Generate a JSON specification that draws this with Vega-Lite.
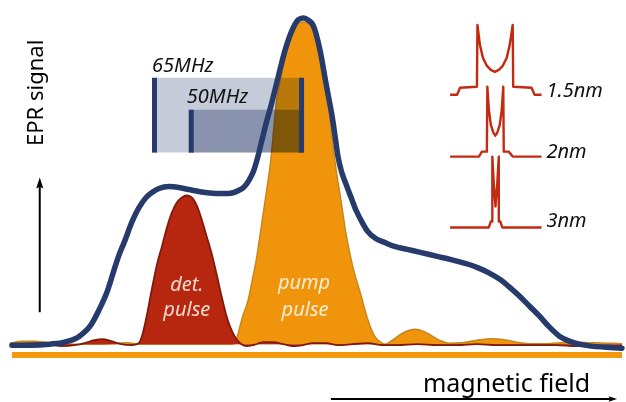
{
  "$schema": "https://vega.github.io/schema/vega-lite/v6.json",
  "width": 626,
  "height": 402,
  "padding": 0,
  "autosize": {"type": "fit", "contains": "padding"},
  "background": "white",
  "view": {"stroke": null},
  "config": {"text": {"font": "Noto Sans"}},
  "datasets": {
    "epr": [
      {"x": 12, "s": -1}, {"x": 30, "s": -1}, {"x": 50, "s": 0}, {"x": 65, "s": 2},
      {"x": 80, "s": 8}, {"x": 92, "s": 20}, {"x": 100, "s": 35}, {"x": 108, "s": 53},
      {"x": 115, "s": 75}, {"x": 120, "s": 90}, {"x": 125, "s": 102}, {"x": 133, "s": 123},
      {"x": 140, "s": 137}, {"x": 147, "s": 147}, {"x": 153, "s": 152}, {"x": 160, "s": 156},
      {"x": 170, "s": 158}, {"x": 180, "s": 157}, {"x": 190, "s": 155}, {"x": 207, "s": 152},
      {"x": 220, "s": 151}, {"x": 230, "s": 151}, {"x": 240, "s": 154}, {"x": 246, "s": 158},
      {"x": 251, "s": 165}, {"x": 255, "s": 173}, {"x": 259, "s": 186}, {"x": 263, "s": 202},
      {"x": 268, "s": 222}, {"x": 273, "s": 240}, {"x": 280, "s": 268}, {"x": 287, "s": 295},
      {"x": 295, "s": 317}, {"x": 300, "s": 325}, {"x": 305, "s": 327}, {"x": 310, "s": 325},
      {"x": 315, "s": 320}, {"x": 322, "s": 295}, {"x": 328, "s": 262}, {"x": 331, "s": 246},
      {"x": 334, "s": 230}, {"x": 337, "s": 210}, {"x": 340, "s": 189}, {"x": 344, "s": 172},
      {"x": 348, "s": 161}, {"x": 353, "s": 148}, {"x": 358, "s": 135}, {"x": 364, "s": 123},
      {"x": 370, "s": 113}, {"x": 378, "s": 106}, {"x": 387, "s": 102}, {"x": 397, "s": 98},
      {"x": 410, "s": 95}, {"x": 423, "s": 92},
      {"x": 440, "s": 88}, {"x": 453, "s": 85}, {"x": 468, "s": 81}, {"x": 480, "s": 77},
      {"x": 493, "s": 71}, {"x": 503, "s": 65}, {"x": 513, "s": 57}, {"x": 523, "s": 48},
      {"x": 533, "s": 38}, {"x": 543, "s": 28}, {"x": 553, "s": 17}, {"x": 563, "s": 8},
      {"x": 573, "s": 3}, {"x": 583, "s": 0}, {"x": 595, "s": -2}, {"x": 610, "s": -3},
      {"x": 626, "s": -4}
    ],
    "pump": [
      {"x": 10, "s": 1}, {"x": 22, "s": 3}, {"x": 35, "s": 3}, {"x": 48, "s": 1.5},
      {"x": 60, "s": 0}, {"x": 75, "s": 0}, {"x": 90, "s": 0}, {"x": 105, "s": 0},
      {"x": 118, "s": 1}, {"x": 128, "s": 1.5}, {"x": 136, "s": 0.5}, {"x": 145, "s": 0},
      {"x": 160, "s": 0}, {"x": 200, "s": 0}, {"x": 225, "s": 0}, {"x": 234, "s": 0},
      {"x": 237, "s": 2}, {"x": 240, "s": 12}, {"x": 244, "s": 27}, {"x": 250, "s": 45},
      {"x": 254, "s": 65}, {"x": 258, "s": 85}, {"x": 263, "s": 118}, {"x": 268, "s": 152},
      {"x": 272, "s": 180}, {"x": 275, "s": 210}, {"x": 278, "s": 242}, {"x": 283, "s": 268},
      {"x": 288, "s": 295}, {"x": 293, "s": 310}, {"x": 297, "s": 318}, {"x": 301, "s": 322},
      {"x": 305, "s": 323}, {"x": 309, "s": 322}, {"x": 313, "s": 318}, {"x": 317, "s": 310},
      {"x": 322, "s": 294}, {"x": 327, "s": 268}, {"x": 330, "s": 245}, {"x": 333, "s": 218},
      {"x": 336, "s": 192}, {"x": 339, "s": 170}, {"x": 343, "s": 145}, {"x": 348, "s": 112},
      {"x": 355, "s": 78}, {"x": 363, "s": 50}, {"x": 370, "s": 25}, {"x": 377, "s": 8},
      {"x": 383, "s": 2}, {"x": 388, "s": 0},
      {"x": 395, "s": 4}, {"x": 405, "s": 11}, {"x": 418, "s": 15}, {"x": 430, "s": 11},
      {"x": 442, "s": 4}, {"x": 452, "s": 1}, {"x": 465, "s": 1.5}, {"x": 480, "s": 4},
      {"x": 495, "s": 5.5}, {"x": 508, "s": 4.5}, {"x": 520, "s": 2}, {"x": 535, "s": 0.5},
      {"x": 550, "s": 0.5}, {"x": 565, "s": 1.5}, {"x": 580, "s": 2}, {"x": 595, "s": 1.5},
      {"x": 610, "s": 1}, {"x": 626, "s": 0.5}
    ],
    "det": [
      {"x": 10, "s": -1}, {"x": 20, "s": 0}, {"x": 35, "s": 1}, {"x": 50, "s": 0},
      {"x": 62, "s": -2}, {"x": 75, "s": -1}, {"x": 85, "s": 1}, {"x": 95, "s": 4},
      {"x": 103, "s": 5}, {"x": 112, "s": 3}, {"x": 122, "s": 0}, {"x": 132, "s": -1},
      {"x": 138, "s": 0}, {"x": 141, "s": 3}, {"x": 144, "s": 12}, {"x": 148, "s": 30},
      {"x": 153, "s": 56}, {"x": 158, "s": 80}, {"x": 163, "s": 98}, {"x": 168, "s": 117},
      {"x": 173, "s": 132}, {"x": 178, "s": 142}, {"x": 183, "s": 147}, {"x": 188, "s": 149},
      {"x": 193, "s": 147}, {"x": 198, "s": 139}, {"x": 203, "s": 125}, {"x": 208, "s": 108},
      {"x": 213, "s": 91}, {"x": 218, "s": 70}, {"x": 223, "s": 48}, {"x": 228, "s": 28},
      {"x": 233, "s": 14}, {"x": 238, "s": 5}, {"x": 243, "s": 0}, {"x": 248, "s": -2},
      {"x": 255, "s": -1}, {"x": 265, "s": 2}, {"x": 275, "s": 2}, {"x": 285, "s": 0},
      {"x": 295, "s": -2}, {"x": 305, "s": -1}, {"x": 315, "s": 1}, {"x": 328, "s": 1},
      {"x": 340, "s": -1}, {"x": 355, "s": 0}, {"x": 370, "s": 1}, {"x": 385, "s": -1},
      {"x": 400, "s": -1}, {"x": 420, "s": 0}, {"x": 440, "s": -1}, {"x": 460, "s": -1},
      {"x": 480, "s": 0}, {"x": 500, "s": -1}, {"x": 520, "s": -1}, {"x": 540, "s": -1},
      {"x": 560, "s": -1}, {"x": 580, "s": -2}, {"x": 600, "s": -2}, {"x": 626, "s": -2}
    ],
    "pake": [
      {"d": "1.5nm", "k": 1, "x": 453, "s": 250}, {"d": "1.5nm", "k": 2, "x": 460, "s": 250},
      {"d": "1.5nm", "k": 3, "x": 463, "s": 257}, {"d": "1.5nm", "k": 4, "x": 480, "s": 258},
      {"d": "1.5nm", "k": 5, "x": 480.5, "s": 320}, {"d": "1.5nm", "k": 6, "x": 483, "s": 300},
      {"d": "1.5nm", "k": 7, "x": 486, "s": 287}, {"d": "1.5nm", "k": 8, "x": 490, "s": 279},
      {"d": "1.5nm", "k": 9, "x": 494, "s": 275}, {"d": "1.5nm", "k": 10, "x": 498, "s": 273},
      {"d": "1.5nm", "k": 11, "x": 502, "s": 275}, {"d": "1.5nm", "k": 12, "x": 506, "s": 279},
      {"d": "1.5nm", "k": 13, "x": 510, "s": 287}, {"d": "1.5nm", "k": 14, "x": 513, "s": 300},
      {"d": "1.5nm", "k": 15, "x": 516, "s": 320}, {"d": "1.5nm", "k": 16, "x": 516.5, "s": 258},
      {"d": "1.5nm", "k": 17, "x": 535, "s": 257}, {"d": "1.5nm", "k": 18, "x": 538, "s": 250},
      {"d": "1.5nm", "k": 19, "x": 545, "s": 250},
      {"d": "2nm", "k": 1, "x": 453, "s": 188}, {"d": "2nm", "k": 2, "x": 482, "s": 188},
      {"d": "2nm", "k": 3, "x": 485, "s": 193}, {"d": "2nm", "k": 4, "x": 490, "s": 193},
      {"d": "2nm", "k": 5, "x": 490.5, "s": 258}, {"d": "2nm", "k": 6, "x": 492, "s": 235},
      {"d": "2nm", "k": 7, "x": 494, "s": 220}, {"d": "2nm", "k": 8, "x": 496.5, "s": 212},
      {"d": "2nm", "k": 9, "x": 498.5, "s": 209}, {"d": "2nm", "k": 10, "x": 500.5, "s": 212},
      {"d": "2nm", "k": 11, "x": 503, "s": 220}, {"d": "2nm", "k": 12, "x": 505, "s": 235},
      {"d": "2nm", "k": 13, "x": 506.5, "s": 258}, {"d": "2nm", "k": 14, "x": 507, "s": 193},
      {"d": "2nm", "k": 15, "x": 512, "s": 193}, {"d": "2nm", "k": 16, "x": 516, "s": 188},
      {"d": "2nm", "k": 17, "x": 545, "s": 188},
      {"d": "3nm", "k": 1, "x": 453, "s": 117}, {"d": "3nm", "k": 2, "x": 492, "s": 117},
      {"d": "3nm", "k": 3, "x": 494, "s": 123}, {"d": "3nm", "k": 4, "x": 495.5, "s": 123},
      {"d": "3nm", "k": 5, "x": 495.5, "s": 188}, {"d": "3nm", "k": 6, "x": 497, "s": 160},
      {"d": "3nm", "k": 7, "x": 498.7, "s": 138}, {"d": "3nm", "k": 8, "x": 500.4, "s": 160},
      {"d": "3nm", "k": 9, "x": 502, "s": 188}, {"d": "3nm", "k": 10, "x": 502, "s": 123},
      {"d": "3nm", "k": 11, "x": 503.5, "s": 123}, {"d": "3nm", "k": 12, "x": 505.5, "s": 117},
      {"d": "3nm", "k": 13, "x": 545, "s": 117}
    ],
    "windows": [
      {"t": "65MHz", "x": 153, "x2": 305, "s": 267, "s2": 192, "c": "#c6cbd9"},
      {"t": "50MHz", "x": 190, "x2": 305, "s": 235, "s2": 192, "c": "#b0b9cc"}
    ],
    "edges": [
      {"x": 155.5, "s": 267, "s2": 192},
      {"x": 192.5, "s": 235, "s2": 192},
      {"x": 303.5, "s": 267, "s2": 192}
    ]
  },
  "encoding": {
    "x": {"field": "x", "type": "quantitative", "axis": null,
          "scale": {"domain": [0, 626], "nice": false, "zero": false}},
    "y": {"field": "s", "type": "quantitative", "axis": null,
          "scale": {"domain": [-57, 345], "nice": false, "zero": false}}
  },
  "layer": [
    {
      "data": {"values": [{"x": 12, "x2": 626, "s": -11}]},
      "mark": {"type": "rule", "color": "#f39a0c", "strokeWidth": 6},
      "encoding": {"x2": {"field": "x2"}}
    },
    {
      "data": {"name": "pump"},
      "mark": {"type": "area", "interpolate": "monotone", "color": "#f0950b"},
      "encoding": {}
    },
    {
      "data": {"name": "pump"},
      "mark": {"type": "line", "interpolate": "monotone", "color": "#c8861d", "strokeWidth": 1.5},
      "encoding": {}
    },
    {
      "data": {"name": "det"},
      "mark": {"type": "area", "interpolate": "monotone", "color": "#b7270f"},
      "encoding": {}
    },
    {
      "data": {"name": "det"},
      "mark": {"type": "line", "interpolate": "monotone", "color": "#801a0d", "strokeWidth": 1.8},
      "encoding": {}
    },
    {
      "data": {"name": "windows"},
      "mark": {"type": "rect", "blend": "multiply"},
      "encoding": {
        "x2": {"field": "x2"},
        "y2": {"field": "s2"},
        "color": {"field": "c", "type": "nominal", "scale": null}
      }
    },
    {
      "data": {"name": "edges"},
      "mark": {"type": "rule", "color": "#263b6b", "strokeWidth": 5},
      "encoding": {"y2": {"field": "s2"}}
    },
    {
      "data": {"name": "epr"},
      "mark": {"type": "line", "interpolate": "monotone", "color": "#263b6b",
               "strokeWidth": 5.5, "strokeCap": "round", "strokeJoin": "round"},
      "encoding": {}
    },
    {
      "data": {"name": "pake"},
      "mark": {"type": "line", "color": "#c22a12", "strokeWidth": 2.4, "strokeJoin": "round"},
      "encoding": {
        "detail": {"field": "d", "type": "nominal"},
        "order": {"field": "k", "type": "quantitative"}
      }
    },
    {
      "data": {"values": [
        {"t": "1.5nm", "x": 550, "s": 248},
        {"t": "2nm", "x": 550, "s": 187},
        {"t": "3nm", "x": 550, "s": 117},
        {"t": "65MHz", "x": 153, "s": 273},
        {"t": "50MHz", "x": 188, "s": 242}
      ]},
      "mark": {"type": "text", "align": "left", "baseline": "alphabetic",
               "fontSize": 20, "fontStyle": "italic", "color": "#111111"},
      "encoding": {"text": {"field": "t"}}
    },
    {
      "data": {"values": [
        {"t": "det.", "x": 188, "s": 53},
        {"t": "pulse", "x": 188, "s": 28}
      ]},
      "mark": {"type": "text", "align": "center", "baseline": "alphabetic",
               "fontSize": 20, "fontStyle": "italic", "color": "#f4d9ce"},
      "encoding": {"text": {"field": "t"}}
    },
    {
      "data": {"values": [
        {"t": "pump", "x": 306, "s": 55},
        {"t": "pulse", "x": 307, "s": 28}
      ]},
      "mark": {"type": "text", "align": "center", "baseline": "alphabetic",
               "fontSize": 20, "fontStyle": "italic", "color": "#fcecd6"},
      "encoding": {"text": {"field": "t"}}
    },
    {
      "data": {"values": [{"t": "EPR signal", "x": 43, "s": 252}]},
      "mark": {"type": "text", "align": "center", "baseline": "alphabetic",
               "angle": 270, "fontSize": 22, "color": "#000000"},
      "encoding": {"text": {"field": "t"}}
    },
    {
      "data": {"values": [{"t": "magnetic field", "x": 594, "s": -48}]},
      "mark": {"type": "text", "align": "right", "baseline": "alphabetic",
               "fontSize": 25, "color": "#000000"},
      "encoding": {"text": {"field": "t"}}
    },
    {
      "data": {"values": [
        {"x": 40, "s": 32, "x2": 40, "s2": 158},
        {"x": 333, "s": -55, "x2": 614, "s2": -55}
      ]},
      "mark": {"type": "rule", "color": "#000000", "strokeWidth": 2},
      "encoding": {"x2": {"field": "x2"}, "y2": {"field": "s2"}}
    },
    {
      "data": {"values": [{"x": 40, "s": 160.5}]},
      "mark": {"type": "point", "filled": true, "opacity": 1, "color": "#000000",
               "shape": "M0,-1L0.55,0.7L0,0.4L-0.55,0.7Z", "size": 169},
      "encoding": {}
    },
    {
      "data": {"values": [{"x": 616, "s": -55}]},
      "mark": {"type": "point", "filled": true, "opacity": 1, "color": "#000000",
               "shape": "M0,-1L0.55,0.7L0,0.4L-0.55,0.7Z", "size": 100, "angle": 90},
      "encoding": {}
    }
  ]
}
